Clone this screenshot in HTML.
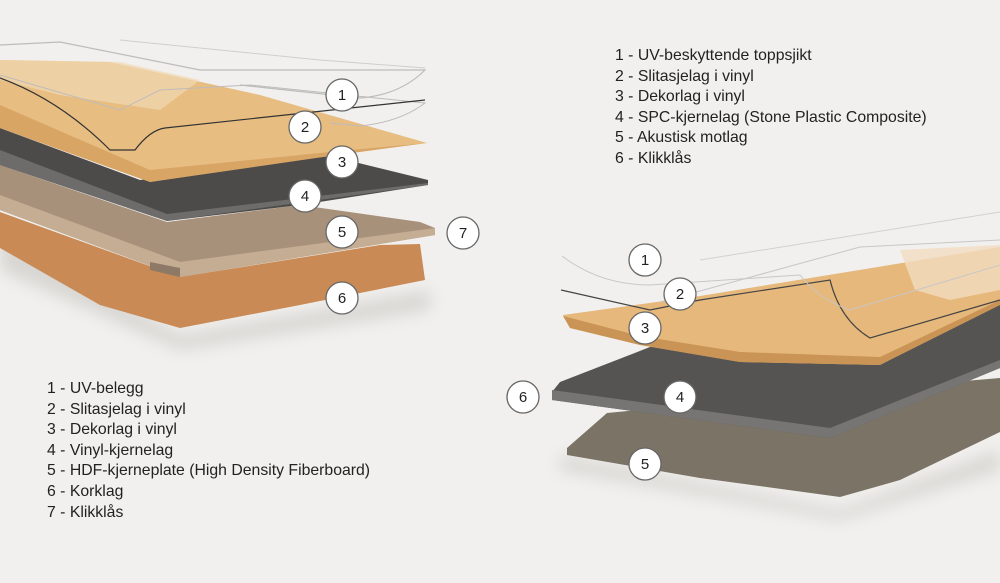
<!DOCTYPE html>
<html><head><meta charset="utf-8"><style>
html,body{margin:0;padding:0;background:#f1f0ee;}
.wrap{position:relative;width:1000px;height:583px;overflow:hidden;background:#f1f0ee;}
svg{position:absolute;left:0;top:0;}
.leg{position:absolute;font-family:"Liberation Sans",sans-serif;font-size:15.8px;line-height:20.6px;color:#222;white-space:nowrap;}
</style></head><body><div class="wrap">
<svg width="1000" height="583" viewBox="0 0 1000 583">
<defs>
<filter id="sh" x="-20%" y="-20%" width="140%" height="160%"><feGaussianBlur stdDeviation="8"/></filter>
</defs>
<path d="M0,230 L180,335 L430,290 L430,310 L180,350 L0,270Z" fill="#d8d6d2" filter="url(#sh)"/>
<path d="M0,212 L180,277 L380,245 L420,244 L425,280 L300,305 L180,328 L100,305 L0,248Z" fill="#c98a55"/>
<path d="M0,165 L167,222 L300,205 L420,222 L435,228 L435,235 L180,277 L0,210Z" fill="#a8917a"/>
<path d="M0,195 L180,262 L435,228 L435,235 L180,277 L0,210Z" fill="#c4ad93"/>
<path d="M150,262 L180,268 L180,277 L150,270Z" fill="#8d7965"/>
<path d="M0,128 L140,180 L330,156 L428,180 L428,185 L300,205 L167,221 L0,165Z" fill="#4c4b4a"/>
<path d="M0,150 L167,214 L428,183 L428,185 L167,221 L0,165Z" fill="#6e6c6a"/>
<path d="M0,60 L110,62 L260,95 L427,143 L330,155 L150,182 L0,128Z" fill="#e8bd82"/>
<path d="M0,60 L120,62 L200,80 L160,110 L60,95 L0,80Z" fill="#f1d9b4" opacity="0.7"/>
<path d="M0,105 L150,170 L330,152 L427,143 L330,156 L150,182 L0,128Z" fill="#d9a565"/>
<path d="M0,45 L60,42 L200,70 L425,70 Q400,95 360,98 L240,85" fill="none" stroke="#bdbcba" stroke-width="1.2"/>
<path d="M0,75 L120,110 L160,90 L250,85 L425,103 Q400,122 360,126 L330,123" fill="none" stroke="#bdbcba" stroke-width="1"/>
<path d="M0,78 Q60,100 110,150 L135,150 Q150,130 165,128 L425,100" fill="none" stroke="#333" stroke-width="1.2"/>
<path d="M120,40 L320,60 L425,68" fill="none" stroke="#cfcecc" stroke-width="1"/>
<path d="M560,455 L840,510 L1000,450 L1000,470 L840,520 L560,470Z" fill="#d8d6d2" filter="url(#sh)"/>
<path d="M567,448 L607,413 L800,395 L1000,378 L1000,432 L900,480 L840,497 L700,478 L567,455Z" fill="#7b7365"/>
<path d="M560,382 L650,347 L1000,305 L1000,368 L830,438 L552,400 L552,392Z" fill="#555453"/>
<path d="M552,390 L830,428 L1000,360 L1000,368 L830,438 L552,400Z" fill="#777573"/>
<path d="M563,315 L700,296 L1000,247 L1000,300 L880,365 L740,362 L640,345 L570,328Z" fill="#e6b87c"/>
<path d="M900,250 L1000,245 L1000,290 L950,300 L915,290Z" fill="#f2dcc0" opacity="0.8"/>
<path d="M563,316 L640,336 L740,352 L880,357 L1000,300 L1000,305 L880,365 L740,362 L640,345 L570,328Z" fill="#c99455"/>
<path d="M561,290 L650,310 L700,300 L830,280 Q840,320 870,338 L1000,300" fill="none" stroke="#444" stroke-width="1.2"/>
<path d="M562,256 Q600,285 650,285 L800,275 Q820,300 850,310 L1000,265" fill="none" stroke="#c8c7c5" stroke-width="1"/>
<path d="M700,260 L1000,212" fill="none" stroke="#d2d1cf" stroke-width="1"/>
<path d="M660,302 L860,247 L1000,240" fill="none" stroke="#c8c7c5" stroke-width="1"/>
<g fill="#fff" stroke="#666" stroke-width="1.3">
<circle cx="342" cy="95" r="16"/><circle cx="305" cy="127" r="16"/><circle cx="342" cy="162" r="16"/><circle cx="305" cy="196" r="16"/><circle cx="342" cy="232" r="16"/><circle cx="463" cy="233" r="16"/><circle cx="342" cy="298" r="16"/>
<circle cx="645" cy="260" r="16"/><circle cx="680" cy="294" r="16"/><circle cx="645" cy="328" r="16"/><circle cx="523" cy="397" r="16"/><circle cx="680" cy="397" r="16"/><circle cx="645" cy="464" r="16"/>
</g>
<g fill="#222" font-family="Liberation Sans,sans-serif" font-size="15" text-anchor="middle">
<text x="342" y="100">1</text><text x="305" y="132">2</text><text x="342" y="167">3</text><text x="305" y="201">4</text><text x="342" y="237">5</text><text x="463" y="238">7</text><text x="342" y="303">6</text>
<text x="645" y="265">1</text><text x="680" y="299">2</text><text x="645" y="333">3</text><text x="523" y="402">6</text><text x="680" y="402">4</text><text x="645" y="469">5</text>
</g>
</svg>
<div class="leg" style="left:615px;top:46px;">1 - UV-beskyttende toppsjikt<br>2 - Slitasjelag i vinyl<br>3 - Dekorlag i vinyl<br>4 - SPC-kjernelag (Stone Plastic Composite)<br>5 - Akustisk motlag<br>6 - Klikklås</div>
<div class="leg" style="left:47px;top:379px;">1 - UV-belegg<br>2 - Slitasjelag i vinyl<br>3 - Dekorlag i vinyl<br>4 - Vinyl-kjernelag<br>5 - HDF-kjerneplate (High Density Fiberboard)<br>6 - Korklag<br>7 - Klikklås</div>
</div></body></html>
